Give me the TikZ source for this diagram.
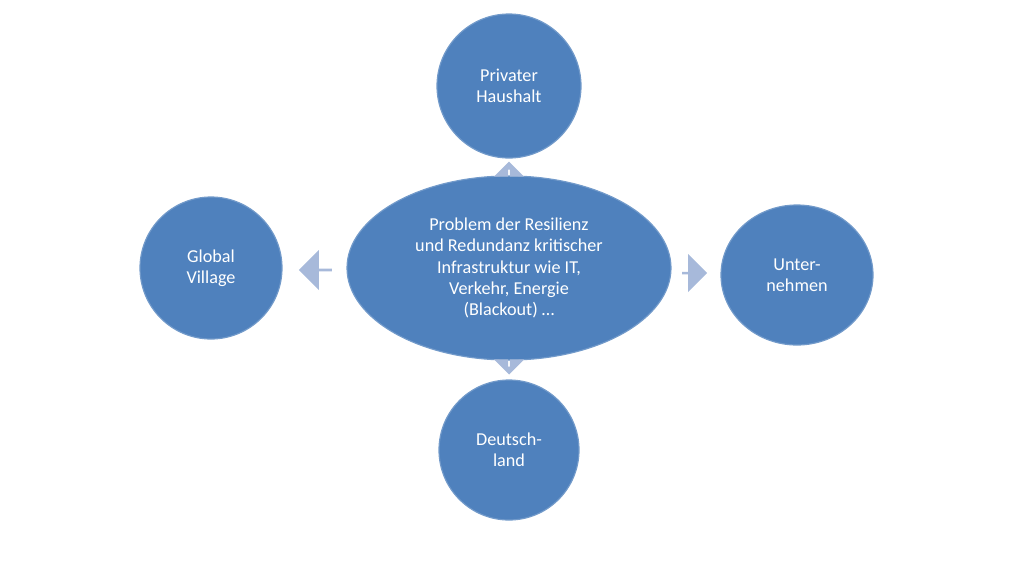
\documentclass[tikz,border=0pt]{standalone}
\usepackage{fontspec}
\setmainfont{Carlito}
\usetikzlibrary{shapes.arrows,shapes.geometric}
\definecolor{bubble}{HTML}{4F81BD}
\definecolor{pointer}{HTML}{A7B9DA}
\begin{document}
\begin{tikzpicture}[x=0.03cm,y=-0.03cm,
  bubble_node/.style={circle,fill=bubble,draw=bubble!80!white,line width=1pt,text=white,align=center,font=\fontsize{15.5pt}{18pt}\selectfont,inner sep=0pt},
  pointer_node/.style={single arrow,fill=pointer,draw=none,single arrow head extend=0.1cm,inner sep=0pt}]
  \useasboundingbox (0,0) rectangle (1024,576);

  \node[bubble_node,ellipse,minimum width=324*0.03cm,minimum height=184*0.03cm] (core) at (509,268)
    {Problem der Resilienz\\und Redundanz kritischer\\Infrastruktur wie IT,\\Verkehr, Energie\\(Blackout) \dots};
  \node[bubble_node,minimum size=144*0.03cm] (home) at (509,86) {Privater\\Haushalt};
  \node[bubble_node,minimum size=140*0.03cm] (land) at (509,450) {Deutsch-\\land};
  \node[bubble_node,minimum size=142*0.03cm] (village) at (211,268) {Global\\Village};
  \node[bubble_node,ellipse,minimum width=152*0.03cm,minimum height=140*0.03cm] (firm) at (797,275) {Unter-\\nehmen};

  \node[pointer_node,minimum height=33*0.03cm,minimum width=40*0.03cm,shape border rotate=180] (to_village) at (316,270) {};
  \node[pointer_node,minimum height=25*0.03cm,minimum width=38*0.03cm] (to_firm) at (694,273) {};
  \node[pointer_node,minimum height=8*0.03cm,minimum width=30*0.03cm,shape border rotate=90] (to_home) at (509,166) {};
  \node[pointer_node,minimum height=8*0.03cm,minimum width=30*0.03cm,shape border rotate=270] (to_land) at (509,370) {};
\end{tikzpicture}
\end{document}
